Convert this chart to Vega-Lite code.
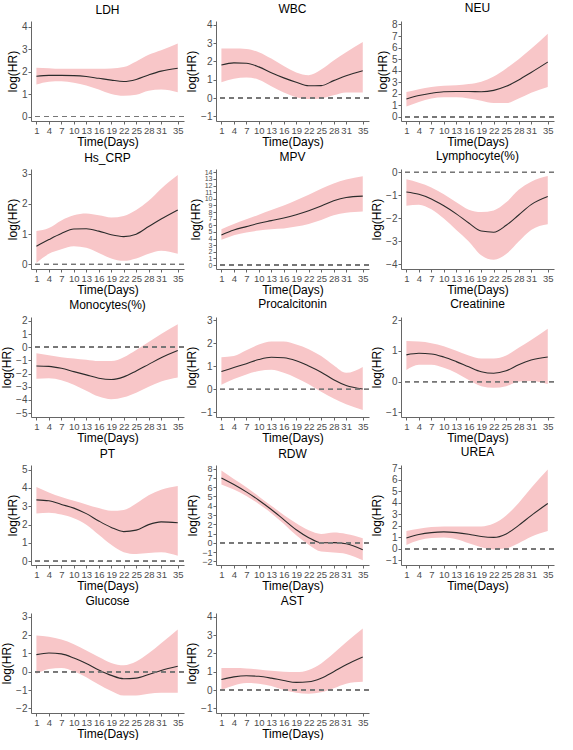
{
  "$schema": "https://vega.github.io/schema/vega-lite/v6.json",
  "padding": {"left": 0, "top": 2, "right": 2, "bottom": 0},
  "background": "white",
  "data": {"values": [
    {"v":"LDH","d":1,"e":1.79,"u":2.17,"l":1.42},{"v":"LDH","d":4,"e":1.83,"u":2.15,"l":1.55},{"v":"LDH","d":7,"e":1.83,"u":2.12,"l":1.57},{"v":"LDH","d":10,"e":1.82,"u":2.12,"l":1.5},{"v":"LDH","d":13,"e":1.78,"u":2.12,"l":1.38},{"v":"LDH","d":16,"e":1.7,"u":2.12,"l":1.2},{"v":"LDH","d":19,"e":1.62,"u":2.14,"l":1.0},{"v":"LDH","d":22,"e":1.56,"u":2.2,"l":0.92},{"v":"LDH","d":25,"e":1.65,"u":2.45,"l":0.97},{"v":"LDH","d":28,"e":1.85,"u":2.75,"l":1.15},{"v":"LDH","d":31,"e":2.02,"u":2.95,"l":1.2},{"v":"LDH","d":35,"e":2.15,"u":3.25,"l":1.08},
    {"v":"WBC","d":1,"e":1.8,"u":2.7,"l":0.86},{"v":"WBC","d":4,"e":1.92,"u":2.7,"l":1.05},{"v":"WBC","d":7,"e":1.9,"u":2.68,"l":1.12},{"v":"WBC","d":10,"e":1.7,"u":2.5,"l":1.0},{"v":"WBC","d":13,"e":1.38,"u":2.15,"l":0.65},{"v":"WBC","d":16,"e":1.1,"u":1.75,"l":0.3},{"v":"WBC","d":19,"e":0.86,"u":1.4,"l":0.05},{"v":"WBC","d":22,"e":0.67,"u":1.25,"l":-0.05},{"v":"WBC","d":25,"e":0.68,"u":1.55,"l":-0.02},{"v":"WBC","d":28,"e":0.95,"u":2.05,"l":0.15},{"v":"WBC","d":31,"e":1.22,"u":2.5,"l":0.3},{"v":"WBC","d":35,"e":1.49,"u":3.05,"l":0.3},
    {"v":"NEU","d":1,"e":1.55,"u":2.15,"l":0.9},{"v":"NEU","d":4,"e":1.85,"u":2.4,"l":1.3},{"v":"NEU","d":7,"e":2.05,"u":2.6,"l":1.6},{"v":"NEU","d":10,"e":2.18,"u":2.7,"l":1.7},{"v":"NEU","d":13,"e":2.2,"u":2.75,"l":1.7},{"v":"NEU","d":16,"e":2.2,"u":2.85,"l":1.6},{"v":"NEU","d":19,"e":2.18,"u":3.05,"l":1.4},{"v":"NEU","d":22,"e":2.3,"u":3.5,"l":1.2},{"v":"NEU","d":25,"e":2.65,"u":4.2,"l":1.2},{"v":"NEU","d":28,"e":3.2,"u":5.0,"l":1.6},{"v":"NEU","d":31,"e":3.85,"u":5.9,"l":2.1},{"v":"NEU","d":35,"e":4.75,"u":7.2,"l":2.6},
    {"v":"Hs_CRP","d":1,"e":0.6,"u":1.1,"l":0.05},{"v":"Hs_CRP","d":4,"e":0.82,"u":1.2,"l":0.35},{"v":"Hs_CRP","d":7,"e":1.02,"u":1.45,"l":0.5},{"v":"Hs_CRP","d":10,"e":1.17,"u":1.62,"l":0.6},{"v":"Hs_CRP","d":13,"e":1.18,"u":1.68,"l":0.55},{"v":"Hs_CRP","d":16,"e":1.1,"u":1.62,"l":0.38},{"v":"Hs_CRP","d":19,"e":0.98,"u":1.55,"l":0.2},{"v":"Hs_CRP","d":22,"e":0.92,"u":1.6,"l":0.12},{"v":"Hs_CRP","d":25,"e":1.0,"u":1.8,"l":0.2},{"v":"Hs_CRP","d":28,"e":1.25,"u":2.1,"l":0.35},{"v":"Hs_CRP","d":31,"e":1.5,"u":2.5,"l":0.45},{"v":"Hs_CRP","d":35,"e":1.8,"u":2.95,"l":0.35},
    {"v":"MPV","d":1,"e":4.55,"u":5.4,"l":3.8},{"v":"MPV","d":4,"e":5.3,"u":6.2,"l":4.5},{"v":"MPV","d":7,"e":5.8,"u":6.9,"l":4.9},{"v":"MPV","d":10,"e":6.3,"u":7.6,"l":5.2},{"v":"MPV","d":13,"e":6.7,"u":8.3,"l":5.4},{"v":"MPV","d":16,"e":7.1,"u":9.0,"l":5.5},{"v":"MPV","d":19,"e":7.6,"u":9.8,"l":5.8},{"v":"MPV","d":22,"e":8.2,"u":10.6,"l":6.2},{"v":"MPV","d":25,"e":8.9,"u":11.5,"l":6.8},{"v":"MPV","d":28,"e":9.7,"u":12.3,"l":7.5},{"v":"MPV","d":31,"e":10.2,"u":12.9,"l":7.9},{"v":"MPV","d":35,"e":10.4,"u":13.4,"l":8.1},
    {"v":"Lymphocyte(%)","d":1,"e":-0.85,"u":-0.3,"l":-1.45},{"v":"Lymphocyte(%)","d":4,"e":-0.95,"u":-0.45,"l":-1.4},{"v":"Lymphocyte(%)","d":7,"e":-1.15,"u":-0.65,"l":-1.6},{"v":"Lymphocyte(%)","d":10,"e":-1.45,"u":-0.95,"l":-2.0},{"v":"Lymphocyte(%)","d":13,"e":-1.8,"u":-1.3,"l":-2.5},{"v":"Lymphocyte(%)","d":16,"e":-2.2,"u":-1.62,"l":-3.0},{"v":"Lymphocyte(%)","d":19,"e":-2.55,"u":-1.72,"l":-3.6},{"v":"Lymphocyte(%)","d":22,"e":-2.6,"u":-1.65,"l":-3.8},{"v":"Lymphocyte(%)","d":25,"e":-2.3,"u":-1.3,"l":-3.55},{"v":"Lymphocyte(%)","d":28,"e":-1.85,"u":-0.75,"l":-3.0},{"v":"Lymphocyte(%)","d":31,"e":-1.4,"u":-0.4,"l":-2.5},{"v":"Lymphocyte(%)","d":35,"e":-1.05,"u":-0.15,"l":-2.25},
    {"v":"Monocytes(%)","d":1,"e":-1.42,"u":-0.45,"l":-2.4},{"v":"Monocytes(%)","d":4,"e":-1.45,"u":-0.6,"l":-2.35},{"v":"Monocytes(%)","d":7,"e":-1.6,"u":-0.75,"l":-2.5},{"v":"Monocytes(%)","d":10,"e":-1.85,"u":-0.85,"l":-2.85},{"v":"Monocytes(%)","d":13,"e":-2.1,"u":-0.95,"l":-3.3},{"v":"Monocytes(%)","d":16,"e":-2.35,"u":-1.05,"l":-3.75},{"v":"Monocytes(%)","d":19,"e":-2.45,"u":-1.05,"l":-3.95},{"v":"Monocytes(%)","d":22,"e":-2.25,"u":-0.75,"l":-3.8},{"v":"Monocytes(%)","d":25,"e":-1.8,"u":-0.2,"l":-3.45},{"v":"Monocytes(%)","d":28,"e":-1.3,"u":0.4,"l":-3.0},{"v":"Monocytes(%)","d":31,"e":-0.8,"u":1.0,"l":-2.6},{"v":"Monocytes(%)","d":35,"e":-0.25,"u":1.75,"l":-2.3},
    {"v":"Procalcitonin","d":1,"e":0.78,"u":1.4,"l":0.2},{"v":"Procalcitonin","d":4,"e":0.95,"u":1.45,"l":0.45},{"v":"Procalcitonin","d":7,"e":1.12,"u":1.7,"l":0.65},{"v":"Procalcitonin","d":10,"e":1.3,"u":1.95,"l":0.8},{"v":"Procalcitonin","d":13,"e":1.4,"u":2.08,"l":0.85},{"v":"Procalcitonin","d":16,"e":1.38,"u":2.08,"l":0.72},{"v":"Procalcitonin","d":19,"e":1.25,"u":1.95,"l":0.5},{"v":"Procalcitonin","d":22,"e":1.02,"u":1.75,"l":0.22},{"v":"Procalcitonin","d":25,"e":0.75,"u":1.45,"l":-0.1},{"v":"Procalcitonin","d":28,"e":0.42,"u":1.05,"l":-0.4},{"v":"Procalcitonin","d":31,"e":0.17,"u":0.72,"l":-0.65},{"v":"Procalcitonin","d":35,"e":0.02,"u":0.98,"l":-0.9},
    {"v":"Creatinine","d":1,"e":0.87,"u":1.32,"l":0.38},{"v":"Creatinine","d":4,"e":0.92,"u":1.3,"l":0.55},{"v":"Creatinine","d":7,"e":0.9,"u":1.25,"l":0.55},{"v":"Creatinine","d":10,"e":0.8,"u":1.15,"l":0.45},{"v":"Creatinine","d":13,"e":0.65,"u":1.0,"l":0.28},{"v":"Creatinine","d":16,"e":0.48,"u":0.85,"l":0.05},{"v":"Creatinine","d":19,"e":0.32,"u":0.75,"l":-0.15},{"v":"Creatinine","d":22,"e":0.27,"u":0.75,"l":-0.2},{"v":"Creatinine","d":25,"e":0.35,"u":0.85,"l":-0.15},{"v":"Creatinine","d":28,"e":0.55,"u":1.1,"l":0.0},{"v":"Creatinine","d":31,"e":0.7,"u":1.35,"l":0.02},{"v":"Creatinine","d":35,"e":0.8,"u":1.72,"l":-0.08},
    {"v":"PT","d":1,"e":3.35,"u":4.05,"l":2.6},{"v":"PT","d":4,"e":3.3,"u":3.75,"l":2.65},{"v":"PT","d":7,"e":3.1,"u":3.5,"l":2.55},{"v":"PT","d":10,"e":2.9,"u":3.3,"l":2.35},{"v":"PT","d":13,"e":2.6,"u":3.1,"l":2.0},{"v":"PT","d":16,"e":2.2,"u":2.9,"l":1.45},{"v":"PT","d":19,"e":1.85,"u":2.75,"l":0.9},{"v":"PT","d":22,"e":1.62,"u":2.8,"l":0.5},{"v":"PT","d":25,"e":1.7,"u":3.15,"l":0.4},{"v":"PT","d":28,"e":2.0,"u":3.6,"l":0.45},{"v":"PT","d":31,"e":2.15,"u":3.9,"l":0.5},{"v":"PT","d":35,"e":2.1,"u":4.1,"l":0.3},
    {"v":"RDW","d":1,"e":7.0,"u":7.8,"l":6.3},{"v":"RDW","d":4,"e":6.3,"u":6.9,"l":5.75},{"v":"RDW","d":7,"e":5.5,"u":6.0,"l":5.05},{"v":"RDW","d":10,"e":4.6,"u":5.0,"l":4.2},{"v":"RDW","d":13,"e":3.6,"u":4.0,"l":3.2},{"v":"RDW","d":16,"e":2.5,"u":3.0,"l":2.05},{"v":"RDW","d":19,"e":1.4,"u":2.1,"l":0.8},{"v":"RDW","d":22,"e":0.55,"u":1.35,"l":-0.2},{"v":"RDW","d":25,"e":0.0,"u":0.95,"l":-0.95},{"v":"RDW","d":28,"e":0.02,"u":1.1,"l":-1.05},{"v":"RDW","d":31,"e":-0.1,"u":0.95,"l":-1.2},{"v":"RDW","d":35,"e":-0.75,"u":0.5,"l":-1.9},
    {"v":"UREA","d":1,"e":0.95,"u":1.55,"l":0.35},{"v":"UREA","d":4,"e":1.25,"u":1.75,"l":0.75},{"v":"UREA","d":7,"e":1.42,"u":1.9,"l":0.95},{"v":"UREA","d":10,"e":1.48,"u":1.95,"l":1.0},{"v":"UREA","d":13,"e":1.42,"u":1.95,"l":0.85},{"v":"UREA","d":16,"e":1.28,"u":1.95,"l":0.5},{"v":"UREA","d":19,"e":1.08,"u":1.95,"l":0.15},{"v":"UREA","d":22,"e":1.0,"u":2.2,"l":-0.05},{"v":"UREA","d":25,"e":1.3,"u":2.9,"l":0.05},{"v":"UREA","d":28,"e":2.05,"u":4.0,"l":0.5},{"v":"UREA","d":31,"e":2.9,"u":5.3,"l":1.05},{"v":"UREA","d":35,"e":3.95,"u":6.9,"l":1.55},
    {"v":"Glucose","d":1,"e":0.93,"u":1.97,"l":-0.12},{"v":"Glucose","d":4,"e":1.02,"u":1.9,"l":0.15},{"v":"Glucose","d":7,"e":0.97,"u":1.75,"l":0.2},{"v":"Glucose","d":10,"e":0.75,"u":1.5,"l":0.02},{"v":"Glucose","d":13,"e":0.45,"u":1.15,"l":-0.3},{"v":"Glucose","d":16,"e":0.1,"u":0.8,"l":-0.7},{"v":"Glucose","d":19,"e":-0.2,"u":0.48,"l":-1.05},{"v":"Glucose","d":22,"e":-0.38,"u":0.35,"l":-1.3},{"v":"Glucose","d":25,"e":-0.35,"u":0.55,"l":-1.3},{"v":"Glucose","d":28,"e":-0.15,"u":1.0,"l":-1.2},{"v":"Glucose","d":31,"e":0.07,"u":1.55,"l":-1.15},{"v":"Glucose","d":35,"e":0.3,"u":2.3,"l":-1.15},
    {"v":"AST","d":1,"e":0.58,"u":1.2,"l":0.0},{"v":"AST","d":4,"e":0.72,"u":1.2,"l":0.25},{"v":"AST","d":7,"e":0.78,"u":1.18,"l":0.38},{"v":"AST","d":10,"e":0.75,"u":1.12,"l":0.35},{"v":"AST","d":13,"e":0.65,"u":1.05,"l":0.22},{"v":"AST","d":16,"e":0.52,"u":1.0,"l":0.0},{"v":"AST","d":19,"e":0.42,"u":0.98,"l":-0.15},{"v":"AST","d":22,"e":0.45,"u":1.1,"l":-0.2},{"v":"AST","d":25,"e":0.65,"u":1.45,"l":-0.12},{"v":"AST","d":28,"e":1.0,"u":2.0,"l":0.1},{"v":"AST","d":31,"e":1.38,"u":2.6,"l":0.35},{"v":"AST","d":35,"e":1.8,"u":3.35,"l":0.45}
  ]},
  "columns": 3,
  "spacing": {"row": 2, "column": 0},
  "concat": [
    {"title":"LDH","transform":[{"filter":"datum.v==='LDH'"}],"layer":[
      {"mark":{"type":"area","color":"#F8C6C8","interpolate":"monotone"},"encoding":{"x":{"field":"d","type":"quantitative","title":"Time(Days)","scale":{"domain":[-0.3,36.5],"nice":false},"axis":{"values":[1,4,7,10,13,16,19,22,25,28,31,35],"tickCount":40,"format":"d","labelFontSize":9.5}},"y":{"field":"l","type":"quantitative","title":"log(HR)","scale":{"domain":[-0.2,4.25],"nice":false,"zero":false},"axis":{"values":[0,1,2,3,4],"tickCount":40,"format":"d"}},"y2":{"field":"u"}}},
      {"mark":{"type":"line","color":"#2b2b2b","strokeWidth":1.1,"interpolate":"monotone"},"encoding":{"x":{"field":"d","type":"quantitative"},"y":{"field":"e","type":"quantitative","title":"log(HR)"}}},
      {"mark":{"type":"rule","color":"#777777","strokeDash":[5,4],"strokeWidth":1},"encoding":{"y":{"datum":0}}}
    ]},
    {"title":"WBC","transform":[{"filter":"datum.v==='WBC'"}],"layer":[
      {"mark":{"type":"area","color":"#F8C6C8","interpolate":"monotone"},"encoding":{"x":{"field":"d","type":"quantitative","title":"Time(Days)","scale":{"domain":[-0.3,36.5],"nice":false},"axis":{"values":[1,4,7,10,13,16,19,22,25,28,31,35],"tickCount":40,"format":"d","labelFontSize":9.5}},"y":{"field":"l","type":"quantitative","title":"log(HR)","scale":{"domain":[-1.25,4.2],"nice":false,"zero":false},"axis":{"values":[-1,0,1,2,3,4],"tickCount":40,"format":"d"}},"y2":{"field":"u"}}},
      {"mark":{"type":"line","color":"#2b2b2b","strokeWidth":1.1,"interpolate":"monotone"},"encoding":{"x":{"field":"d","type":"quantitative"},"y":{"field":"e","type":"quantitative","title":"log(HR)"}}},
      {"mark":{"type":"rule","color":"#777777","strokeDash":[5,4],"strokeWidth":1},"encoding":{"y":{"datum":0}}}
    ]},
    {"title":"NEU","transform":[{"filter":"datum.v==='NEU'"}],"layer":[
      {"mark":{"type":"area","color":"#F8C6C8","interpolate":"monotone"},"encoding":{"x":{"field":"d","type":"quantitative","title":"Time(Days)","scale":{"domain":[-0.3,36.5],"nice":false},"axis":{"values":[1,4,7,10,13,16,19,22,25,28,31,35],"tickCount":40,"format":"d","labelFontSize":9.5}},"y":{"field":"l","type":"quantitative","title":"log(HR)","scale":{"domain":[-0.35,8.3],"nice":false,"zero":false},"axis":{"values":[0,1,2,3,4,5,6,7,8],"tickCount":40,"format":"d"}},"y2":{"field":"u"}}},
      {"mark":{"type":"line","color":"#2b2b2b","strokeWidth":1.1,"interpolate":"monotone"},"encoding":{"x":{"field":"d","type":"quantitative"},"y":{"field":"e","type":"quantitative","title":"log(HR)"}}},
      {"mark":{"type":"rule","color":"#777777","strokeDash":[5,4],"strokeWidth":1},"encoding":{"y":{"datum":0}}}
    ]},
    {"title":"Hs_CRP","transform":[{"filter":"datum.v==='Hs_CRP'"}],"layer":[
      {"mark":{"type":"area","color":"#F8C6C8","interpolate":"monotone"},"encoding":{"x":{"field":"d","type":"quantitative","title":"Time(Days)","scale":{"domain":[-0.3,36.5],"nice":false},"axis":{"values":[1,4,7,10,13,16,19,22,25,28,31,35],"tickCount":40,"format":"d","labelFontSize":9.5}},"y":{"field":"l","type":"quantitative","title":"log(HR)","scale":{"domain":[-0.15,3.15],"nice":false,"zero":false},"axis":{"values":[0,1,2,3],"tickCount":40,"format":"d"}},"y2":{"field":"u"}}},
      {"mark":{"type":"line","color":"#2b2b2b","strokeWidth":1.1,"interpolate":"monotone"},"encoding":{"x":{"field":"d","type":"quantitative"},"y":{"field":"e","type":"quantitative","title":"log(HR)"}}},
      {"mark":{"type":"rule","color":"#777777","strokeDash":[5,4],"strokeWidth":1},"encoding":{"y":{"datum":0}}}
    ]},
    {"title":"MPV","transform":[{"filter":"datum.v==='MPV'"}],"layer":[
      {"mark":{"type":"area","color":"#F8C6C8","interpolate":"monotone"},"encoding":{"x":{"field":"d","type":"quantitative","title":"Time(Days)","scale":{"domain":[-0.3,36.5],"nice":false},"axis":{"values":[1,4,7,10,13,16,19,22,25,28,31,35],"tickCount":40,"format":"d","labelFontSize":9.5}},"y":{"field":"l","type":"quantitative","title":"log(HR)","scale":{"domain":[-0.6,14.5],"nice":false,"zero":false},"axis":{"values":[0,1,2,3,4,5,6,7,8,9,10,11,12,13,14],"tickCount":40,"format":"d","labelFontSize":7}},"y2":{"field":"u"}}},
      {"mark":{"type":"line","color":"#2b2b2b","strokeWidth":1.1,"interpolate":"monotone"},"encoding":{"x":{"field":"d","type":"quantitative"},"y":{"field":"e","type":"quantitative","title":"log(HR)"}}},
      {"mark":{"type":"rule","color":"#777777","strokeDash":[5,4],"strokeWidth":1},"encoding":{"y":{"datum":0}}}
    ]},
    {"title":"Lymphocyte(%)","transform":[{"filter":"datum.v==='Lymphocyte(%)'"}],"layer":[
      {"mark":{"type":"area","color":"#F8C6C8","interpolate":"monotone"},"encoding":{"x":{"field":"d","type":"quantitative","title":"Time(Days)","scale":{"domain":[-0.3,36.5],"nice":false},"axis":{"values":[1,4,7,10,13,16,19,22,25,28,31,35],"tickCount":40,"format":"d","labelFontSize":9.5}},"y":{"field":"l","type":"quantitative","title":"log(HR)","scale":{"domain":[-4.2,0.15],"nice":false,"zero":false},"axis":{"values":[-4,-3,-2,-1,0],"tickCount":40,"format":"d"}},"y2":{"field":"u"}}},
      {"mark":{"type":"line","color":"#2b2b2b","strokeWidth":1.1,"interpolate":"monotone"},"encoding":{"x":{"field":"d","type":"quantitative"},"y":{"field":"e","type":"quantitative","title":"log(HR)"}}},
      {"mark":{"type":"rule","color":"#777777","strokeDash":[5,4],"strokeWidth":1},"encoding":{"y":{"datum":0}}}
    ]},
    {"title":"Monocytes(%)","transform":[{"filter":"datum.v==='Monocytes(%)'"}],"layer":[
      {"mark":{"type":"area","color":"#F8C6C8","interpolate":"monotone"},"encoding":{"x":{"field":"d","type":"quantitative","title":"Time(Days)","scale":{"domain":[-0.3,36.5],"nice":false},"axis":{"values":[1,4,7,10,13,16,19,22,25,28,31,35],"tickCount":40,"format":"d","labelFontSize":9.5}},"y":{"field":"l","type":"quantitative","title":"log(HR)","scale":{"domain":[-5.3,2.3],"nice":false,"zero":false},"axis":{"values":[-5,-4,-3,-2,-1,0,1,2],"tickCount":40,"format":"d"}},"y2":{"field":"u"}}},
      {"mark":{"type":"line","color":"#2b2b2b","strokeWidth":1.1,"interpolate":"monotone"},"encoding":{"x":{"field":"d","type":"quantitative"},"y":{"field":"e","type":"quantitative","title":"log(HR)"}}},
      {"mark":{"type":"rule","color":"#777777","strokeDash":[5,4],"strokeWidth":1},"encoding":{"y":{"datum":0}}}
    ]},
    {"title":"Procalcitonin","transform":[{"filter":"datum.v==='Procalcitonin'"}],"layer":[
      {"mark":{"type":"area","color":"#F8C6C8","interpolate":"monotone"},"encoding":{"x":{"field":"d","type":"quantitative","title":"Time(Days)","scale":{"domain":[-0.3,36.5],"nice":false},"axis":{"values":[1,4,7,10,13,16,19,22,25,28,31,35],"tickCount":40,"format":"d","labelFontSize":9.5}},"y":{"field":"l","type":"quantitative","title":"log(HR)","scale":{"domain":[-1.2,3.15],"nice":false,"zero":false},"axis":{"values":[-1,0,1,2,3],"tickCount":40,"format":"d"}},"y2":{"field":"u"}}},
      {"mark":{"type":"line","color":"#2b2b2b","strokeWidth":1.1,"interpolate":"monotone"},"encoding":{"x":{"field":"d","type":"quantitative"},"y":{"field":"e","type":"quantitative","title":"log(HR)"}}},
      {"mark":{"type":"rule","color":"#777777","strokeDash":[5,4],"strokeWidth":1},"encoding":{"y":{"datum":0}}}
    ]},
    {"title":"Creatinine","transform":[{"filter":"datum.v==='Creatinine'"}],"layer":[
      {"mark":{"type":"area","color":"#F8C6C8","interpolate":"monotone"},"encoding":{"x":{"field":"d","type":"quantitative","title":"Time(Days)","scale":{"domain":[-0.3,36.5],"nice":false},"axis":{"values":[1,4,7,10,13,16,19,22,25,28,31,35],"tickCount":40,"format":"d","labelFontSize":9.5}},"y":{"field":"l","type":"quantitative","title":"log(HR)","scale":{"domain":[-1.15,2.1],"nice":false,"zero":false},"axis":{"values":[-1,0,1,2],"tickCount":40,"format":"d"}},"y2":{"field":"u"}}},
      {"mark":{"type":"line","color":"#2b2b2b","strokeWidth":1.1,"interpolate":"monotone"},"encoding":{"x":{"field":"d","type":"quantitative"},"y":{"field":"e","type":"quantitative","title":"log(HR)"}}},
      {"mark":{"type":"rule","color":"#777777","strokeDash":[5,4],"strokeWidth":1},"encoding":{"y":{"datum":0}}}
    ]},
    {"title":"PT","transform":[{"filter":"datum.v==='PT'"}],"layer":[
      {"mark":{"type":"area","color":"#F8C6C8","interpolate":"monotone"},"encoding":{"x":{"field":"d","type":"quantitative","title":"Time(Days)","scale":{"domain":[-0.3,36.5],"nice":false},"axis":{"values":[1,4,7,10,13,16,19,22,25,28,31,35],"tickCount":40,"format":"d","labelFontSize":9.5}},"y":{"field":"l","type":"quantitative","title":"log(HR)","scale":{"domain":[-0.2,5.25],"nice":false,"zero":false},"axis":{"values":[0,1,2,3,4,5],"tickCount":40,"format":"d"}},"y2":{"field":"u"}}},
      {"mark":{"type":"line","color":"#2b2b2b","strokeWidth":1.1,"interpolate":"monotone"},"encoding":{"x":{"field":"d","type":"quantitative"},"y":{"field":"e","type":"quantitative","title":"log(HR)"}}},
      {"mark":{"type":"rule","color":"#777777","strokeDash":[5,4],"strokeWidth":1},"encoding":{"y":{"datum":0}}}
    ]},
    {"title":"RDW","transform":[{"filter":"datum.v==='RDW'"}],"layer":[
      {"mark":{"type":"area","color":"#F8C6C8","interpolate":"monotone"},"encoding":{"x":{"field":"d","type":"quantitative","title":"Time(Days)","scale":{"domain":[-0.3,36.5],"nice":false},"axis":{"values":[1,4,7,10,13,16,19,22,25,28,31,35],"tickCount":40,"format":"d","labelFontSize":9.5}},"y":{"field":"l","type":"quantitative","title":"log(HR)","scale":{"domain":[-2.4,8.4],"nice":false,"zero":false},"axis":{"values":[-2,-1,0,1,2,3,4,5,6,7,8],"tickCount":40,"format":"d","labelFontSize":9}},"y2":{"field":"u"}}},
      {"mark":{"type":"line","color":"#2b2b2b","strokeWidth":1.1,"interpolate":"monotone"},"encoding":{"x":{"field":"d","type":"quantitative"},"y":{"field":"e","type":"quantitative","title":"log(HR)"}}},
      {"mark":{"type":"rule","color":"#777777","strokeDash":[5,4],"strokeWidth":1},"encoding":{"y":{"datum":0}}}
    ]},
    {"title":"UREA","transform":[{"filter":"datum.v==='UREA'"}],"layer":[
      {"mark":{"type":"area","color":"#F8C6C8","interpolate":"monotone"},"encoding":{"x":{"field":"d","type":"quantitative","title":"Time(Days)","scale":{"domain":[-0.3,36.5],"nice":false},"axis":{"values":[1,4,7,10,13,16,19,22,25,28,31,35],"tickCount":40,"format":"d","labelFontSize":9.5}},"y":{"field":"l","type":"quantitative","title":"log(HR)","scale":{"domain":[-1.4,7.3],"nice":false,"zero":false},"axis":{"values":[-1,0,1,2,3,4,5,6,7],"tickCount":40,"format":"d"}},"y2":{"field":"u"}}},
      {"mark":{"type":"line","color":"#2b2b2b","strokeWidth":1.1,"interpolate":"monotone"},"encoding":{"x":{"field":"d","type":"quantitative"},"y":{"field":"e","type":"quantitative","title":"log(HR)"}}},
      {"mark":{"type":"rule","color":"#777777","strokeDash":[5,4],"strokeWidth":1},"encoding":{"y":{"datum":0}}}
    ]},
    {"title":"Glucose","transform":[{"filter":"datum.v==='Glucose'"}],"layer":[
      {"mark":{"type":"area","color":"#F8C6C8","interpolate":"monotone"},"encoding":{"x":{"field":"d","type":"quantitative","title":"Time(Days)","scale":{"domain":[-0.3,36.5],"nice":false},"axis":{"values":[1,4,7,10,13,16,19,22,25,28,31,35],"tickCount":40,"format":"d","labelFontSize":9.5}},"y":{"field":"l","type":"quantitative","title":"log(HR)","scale":{"domain":[-2.25,3.2],"nice":false,"zero":false},"axis":{"values":[-2,-1,0,1,2,3],"tickCount":40,"format":"d"}},"y2":{"field":"u"}}},
      {"mark":{"type":"line","color":"#2b2b2b","strokeWidth":1.1,"interpolate":"monotone"},"encoding":{"x":{"field":"d","type":"quantitative"},"y":{"field":"e","type":"quantitative","title":"log(HR)"}}},
      {"mark":{"type":"rule","color":"#777777","strokeDash":[5,4],"strokeWidth":1},"encoding":{"y":{"datum":0}}}
    ]},
    {"title":"AST","transform":[{"filter":"datum.v==='AST'"}],"layer":[
      {"mark":{"type":"area","color":"#F8C6C8","interpolate":"monotone"},"encoding":{"x":{"field":"d","type":"quantitative","title":"Time(Days)","scale":{"domain":[-0.3,36.5],"nice":false},"axis":{"values":[1,4,7,10,13,16,19,22,25,28,31,35],"tickCount":40,"format":"d","labelFontSize":9.5}},"y":{"field":"l","type":"quantitative","title":"log(HR)","scale":{"domain":[-1.25,4.2],"nice":false,"zero":false},"axis":{"values":[-1,0,1,2,3,4],"tickCount":40,"format":"d"}},"y2":{"field":"u"}}},
      {"mark":{"type":"line","color":"#2b2b2b","strokeWidth":1.1,"interpolate":"monotone"},"encoding":{"x":{"field":"d","type":"quantitative"},"y":{"field":"e","type":"quantitative","title":"log(HR)"}}},
      {"mark":{"type":"rule","color":"#777777","strokeDash":[5,4],"strokeWidth":1},"encoding":{"y":{"datum":0}}}
    ]}
  ],
  "config": {
    "view": {"stroke": null, "continuousWidth": 153, "continuousHeight": 100},
    "axis": {"grid": false, "tickCount": 40, "format": "d", "labelOverlap": false, "labelFlush": false, "labelBound": false, "domainColor": "#666666", "tickColor": "#666666", "tickSize": 3, "labelColor": "#4d4d4d", "labelFont": "Liberation Sans", "labelFontSize": 10, "labelPadding": 1, "titleFont": "Liberation Sans", "titleFontSize": 12, "titleFontWeight": "normal", "titleColor": "#000000", "titlePadding": 2},
    "title": {"font": "Liberation Sans", "fontSize": 12, "fontWeight": "normal", "color": "#000000", "anchor": "middle", "offset": 4}
  }
}
